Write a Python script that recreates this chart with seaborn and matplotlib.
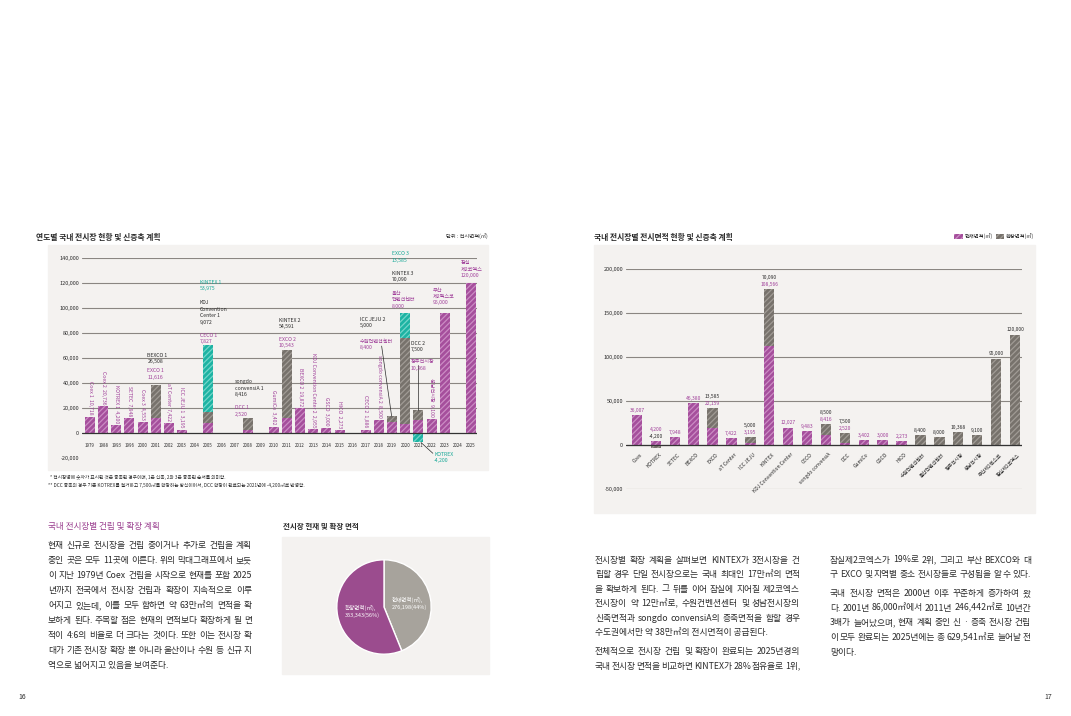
import numpy as np
import matplotlib
matplotlib.use('Agg')
import matplotlib.pyplot as plt
import seaborn as sns
from matplotlib.patches import Rectangle, Patch

# ---- left chart: area by year (magenta = new, gray = expansion, teal = highlighted) ----
years = ['1979', '1988', '1993', '1996', '2000', '2001', '2002', '2003', '2004', '2005',
         '2006', '2007', '2008', '2009', '2010', '2011', '2012', '2013', '2014', '2015',
         '2016', '2017', '2018', '2019', '2020', '2021', '2022', '2023', '2024', '2025']
new_area = [13000, 21600, 6400, 12000, 8800, 12300, 8000, 2700, 0, 8300,
            0, 0, 2700, 0, 5400, 12200, 20000, 3200, 4300, 2700,
            0, 2700, 10400, 9000, 7700, 10700, 11200, 96500, 0, 120500]
expand_area = [0, 0, 0, 0, 0, 26100, 0, 0, 0, 8600,
               0, 0, 9500, 0, 0, 54500, 0, 0, 0, 0,
               0, 0, 0, 4900, 68800, 8000, 0, 0, 0, 0]
teal_area = [0, 0, 0, 0, 0, 0, 0, 0, 0, 53600,
             0, 0, 0, 0, 0, 0, 0, 0, 0, 0,
             0, 0, 0, 0, 19500, 0, 0, 0, 0, 0]
teal_negative = [0] * 25 + [-6700] + [0] * 4

vert_years = ['1979', '1988', '1993', '1996', '2000', '2002', '2003', '2010', '2012',
              '2013', '2014', '2015', '2017', '2018', '2022']
vert_labels = ['Coex 1  10,718', 'Coex 2  20,736', 'KOTREX 1  4,200', 'SETEC  7,948',
               'Coex 3  4,553', 'aT Center  7,422', 'ICC JEJU 1  3,195', 'GumiCo  3,402',
               'BEXCO 2  19,872', 'KDJ Convention Center 2  2,955', 'GSCO  3,000',
               'HICO  2,273', 'CECO 2  1,886', 'songdo convensiA 2  8,500', '성남전시장  9,100']

# ---- right chart: area by venue ----
venues = ['Coex', 'KOTREX', 'SETEC', 'BEXCO', 'EXCO', 'aT Center', 'ICC JEJU', 'KINTEX',
          'KDJ Convention Center', 'CECO', 'songdo convensiA', 'DCC', 'GumiCo', 'GSCO',
          'HICO', '수원컨벤션센터', '울산컨벤션센터', '청주전시장', '성남전시장',
          '부산제2벡스코', '잠실제2코엑스']
current_area = [34200, 4600, 9100, 47800, 19000, 7600, 2700, 112700, 19600, 15600,
                11000, 1900, 5300, 5300, 4200, 0, 0, 0, 0, 0, 0]
extension_area = [0, -3000, 0, 0, 23100, 0, 6400, 65300, 0, 0,
                  12600, 12100, 0, 0, 0, 11400, 9100, 14800, 11400, 98300, 125300]
current_labels = ['36,007', '4,200', '7,948', '46,380', '22,159', '7,422', '3,195', '108,566',
                  '12,027', '9,483', '8,416', '2,520', '3,402', '3,000', '2,273',
                  '', '', '', '', '', '']
extension_labels = ['', '-4,200', '', '', '13,585', '', '5,000', '70,090', '', '', '8,500',
                    '7,500', '', '', '', '8,400', '8,000', '10,368', '9,100', '95,000', '120,000']

# ---- pie ----
pie_values = [276198, 353343]
pie_labels = ['현재면적(㎡),\n276,198(44%)', '확장면적(㎡),\n353,343(56%)']

MAG, MAG_H = '#a54f9c', '#cb8cc4'
GRAY, GRAY_H = '#77726c', '#a09b95'
TEAL, TEAL_H = '#1db3a3', '#74d6ca'
MAG_T, TEAL_T = '#a0409a', '#17a897'
BG = '#f4f2f0'
GRID = '#8a8682'
INK = '#2b2b2b'

sns.set_style('white')
plt.rcParams['font.family'] = ['Noto Sans CJK KR', 'DejaVu Sans']
plt.rcParams['hatch.linewidth'] = 0.9

W, H = 1071, 716
fig = plt.figure(figsize=(W / 100, H / 100), dpi=100)
fig.patch.set_facecolor('white')


def rect(x0, y0, x1, y1):
    return [x0 / W, 1 - y1 / H, (x1 - x0) / W, (y1 - y0) / H]


def ftext(x, y, s, **kw):
    kw.setdefault('color', INK)
    return fig.text(x / W, 1 - y / H, s, **kw)


def panel(x0, y0, x1, y1):
    fig.add_artist(Rectangle((x0 / W, 1 - y1 / H), (x1 - x0) / W, (y1 - y0) / H,
                             transform=fig.transFigure, color=BG, zorder=0))


panel(48, 245, 488, 470)
panel(594, 245, 1035, 513)
panel(282, 537, 489, 674)

# ================= left chart =================
ax1 = fig.add_axes(rect(82, 258.3, 477, 458.3))
ax1.set_facecolor('none')
new = np.array(new_area)
exp = np.array(expand_area)
teal = np.array(teal_area)
total = new + exp + teal
bar_kw = dict(width=0.76, saturation=1, errorbar=None, linewidth=0, hatch='//////', ax=ax1)
sns.barplot(x=years, y=total, color=TEAL, edgecolor=TEAL_H, **bar_kw)
sns.barplot(x=years, y=new + exp, color=GRAY, edgecolor=GRAY_H, **bar_kw)
sns.barplot(x=years, y=new, color=MAG, edgecolor=MAG_H, **bar_kw)
sns.barplot(x=years, y=teal_negative, color=TEAL, edgecolor=TEAL_H, **bar_kw)

for v in range(20000, 140001, 20000):
    ax1.axhline(v, color=GRID, lw=0.8, zorder=0.5)
ax1.axhline(0, color='#333333', lw=0.9, zorder=3)
ax1.set_ylim(-20000, 140000)
ax1.set_yticks(range(-20000, 140001, 20000))
ax1.set_yticklabels([f'{v:,}' for v in range(-20000, 140001, 20000)])
ax1.tick_params(axis='y', length=0, pad=2, labelsize=4.0, labelcolor=INK)
ax1.set_xticks([])
ax1.set_xlabel('')
ax1.set_ylabel('')
for s in ax1.spines.values():
    s.set_visible(False)

for i, yr in enumerate(years):
    ax1.text(i, -9600, yr, ha='center', va='center', fontsize=3.2, color=INK)

for yr, lab in zip(vert_years, vert_labels):
    i = years.index(yr)
    ax1.annotate(lab, (i, total[i]), xytext=(0, 1.5), textcoords='offset points',
                 rotation=270, ha='center', va='bottom', fontsize=3.7, color=MAG_T)

tone = {'k': INK, 'm': MAG_T, 't': TEAL_T}
notes = [
    ('BEXCO 1\n26,508', 'k', 4.36, 64500),
    ('EXCO 1\n11,616', 'm', 4.36, 52000),
    ('KINTEX 1\n53,975', 't', 8.37, 122700),
    ('KDJ\nConvention\nCenter 1\n9,072', 'k', 8.37, 106400),
    ('CECO 1\n7,827', 'm', 8.37, 80500),
    ('songdo\nconvensiA 1\n8,416', 'k', 11.0, 43200),
    ('DCC 1\n2,520', 'm', 11.0, 22400),
    ('KINTEX 2\n54,591', 'k', 14.38, 92500),
    ('EXCO 2\n10,543', 'm', 14.38, 77300),
    ('ICC JEJU 2\n5,000', 'k', 20.55, 93100),
    ('수원컨벤션센터\n8,400', 'm', 20.55, 75700),
    ('EXCO 3\n13,585', 't', 22.96, 145500),
    ('KINTEX 3\n70,090', 'k', 22.96, 129900),
    ('울산\n컨벤션센터\n8,000', 'm', 22.96, 113900),
    ('DCC 2\n7,500', 'k', 24.43, 73900),
    ('청주전시장\n10,368', 'm', 24.43, 59200),
    ('부산\n제2벡스코\n95,000', 'm', 26.1, 116500),
    ('잠실\n제2코엑스\n120,000', 'm', 28.2, 138400),
    ('KOTREX\n-4,200', 't', 26.2, -15000),
]
for txt, c, x, y in notes:
    ax1.text(x, y, txt, ha='left', va='top', fontsize=3.7, color=tone[c], linespacing=1.35)

ax1.plot([22.2, 22.96], [69800, 13800], color=INK, lw=0.5)
ax1.plot([25, 25], [55000, 18700], color=INK, lw=0.5)
ax1.plot([25.2, 26.1], [-7400, -16000], color=INK, lw=0.5)
ax1.set_xlim(-0.61, 29.46)

ftext(36, 237, '연도별 국내 전시장 현황 및 신증축 계획', fontsize=5.6, fontweight='bold',
      va='center', ha='left')
ftext(488, 236, '단위 : 전시면적(㎡)', fontsize=3.8, va='center', ha='right')
ftext(50, 477, '* 전시장명에 숫자가 표시된 것은 증축된 경우이며, 1은 신축, 2와 3은 증축된 순서를 의미함.',
      fontsize=3.4, va='center')
ftext(48, 485.5, '** DCC 증축의 경우 기존 KOTREX를 철거하고 7,500㎡를 확장하는 방식이어서, '
      'DCC 확장이 완료되는 2021년에 -4,200㎡로 반영함.', fontsize=3.4, va='center')

# ================= right chart =================
ax2 = fig.add_axes(rect(626, 269.3, 1022, 489))
ax2.set_facecolor('none')
cur = np.array(current_area)
ext = np.array(extension_area)
top = cur + np.clip(ext, 0, None)
bar_kw2 = dict(width=0.55, saturation=1, errorbar=None, linewidth=0, hatch='//////', ax=ax2)
sns.barplot(x=venues, y=top, color=GRAY, edgecolor=GRAY_H, **bar_kw2)
sns.barplot(x=venues, y=cur, color=MAG, edgecolor=MAG_H, **bar_kw2)
sns.barplot(x=venues, y=np.clip(ext, None, 0), color=GRAY, edgecolor=GRAY_H, **bar_kw2)

for v in range(-50000, 200001, 50000):
    ax2.axhline(v, color=GRID, lw=0.8, zorder=0.5)
ax2.axhline(0, color='#333333', lw=0.9, zorder=3)
ax2.set_ylim(-50000, 200000)
ax2.set_yticks(range(-50000, 200001, 50000))
ax2.set_yticklabels([f'{v:,}' for v in range(-50000, 200001, 50000)])
ax2.tick_params(axis='y', length=0, pad=2, labelsize=4.0, labelcolor=INK)
ax2.set_xticks([])
ax2.set_xlabel('')
ax2.set_ylabel('')
for s in ax2.spines.values():
    s.set_visible(False)

for i, name in enumerate(venues):
    ax2.annotate(name, (i, 0), xytext=(2, -5), textcoords='offset points', rotation=45,
                 rotation_mode='anchor', ha='right', va='top', fontsize=3.6, color=INK)
    cl, el = current_labels[i], extension_labels[i]
    if cl and el:
        lower, upper = (cl, el) if ext[i] >= 0 else (el, cl)
        lc = MAG_T if lower == cl else INK
        uc = MAG_T if upper == cl else INK
        ax2.annotate(lower, (i, top[i]), xytext=(0, 3.2), textcoords='offset points',
                     ha='center', va='center', fontsize=3.6, color=lc)
        ax2.annotate(upper, (i, top[i]), xytext=(0, 8.2), textcoords='offset points',
                     ha='center', va='center', fontsize=3.6, color=uc)
    else:
        ax2.annotate(cl or el, (i, top[i]), xytext=(0, 3.6), textcoords='offset points',
                     ha='center', va='center', fontsize=3.6, color=MAG_T if cl else INK)
ax2.set_xlim(-0.58, 20.37)

ftext(594, 237, '국내 전시장별 전시면적 현황 및 신증축 계획', fontsize=5.6, fontweight='bold',
      va='center', ha='left')
handles = [Patch(facecolor=MAG, edgecolor=MAG_H, hatch='//////', lw=0, label='현재면적(㎡)'),
           Patch(facecolor=GRAY, edgecolor=GRAY_H, hatch='//////', lw=0, label='확장면적(㎡)')]
fig.legend(handles=handles, loc='center right', bbox_to_anchor=(1034 / W, 1 - 236.5 / H),
           ncol=2, frameon=False, fontsize=3.8, handlelength=1.6, handleheight=1.2,
           handletextpad=0.3, columnspacing=0.6, borderaxespad=0, borderpad=0)

# ================= pie =================
ax3 = fig.add_axes(rect(325, 548, 443, 666))
ax3.pie(pie_values, colors=['#a7a39c', '#9b4c8e'], startangle=90, counterclock=False,
        wedgeprops=dict(edgecolor='white', linewidth=1))
ax3.text(0.17, 0.08, pie_labels[0], ha='left', va='center', fontsize=4.0, color='white',
         linespacing=1.3)
ax3.text(-0.83, -0.1, pie_labels[1], ha='left', va='center', fontsize=4.0, color='white',
         linespacing=1.3)
ax3.set_aspect('equal')
ftext(283, 526, '전시장 현재 및 확장 면적', fontsize=5.4, fontweight='bold', va='center')

# ================= body text =================
ftext(48, 527, '국내 전시장별 건립 및 확장 계획', fontsize=6.2, color='#9a3f8f', va='center')

renderer = fig.canvas.get_renderer()


def body_line(x0, x1, y, line, justify=True, size=6.3):
    if not justify:
        ftext(x0, y, line, fontsize=size, va='center')
        return
    words = line.split(' ')
    texts = [ftext(x0, y, w, fontsize=size, va='center') for w in words]
    widths = [t.get_window_extent(renderer).width for t in texts]
    gap = (x1 - x0 - sum(widths)) / max(len(words) - 1, 1)
    x = x0
    for t, w in zip(texts, widths):
        t.set_x(x / W)
        x += w + gap


left_lines = [
    '현재 신규로 전시장을 건립 중이거나 추가로 건립을 계획',
    '중인 곳은 모두 11곳에 이른다. 위의 막대그래프에서 보듯',
    '이 지난 1979년 Coex 건립을 시작으로 현재를 포함 2025',
    '년까지 전국에서 전시장 건립과 확장이 지속적으로 이루',
    '어지고 있는데, 이를 모두 합하면 약 63만㎡의 면적을 확',
    '보하게 된다. 주목할 점은 현재의 면적보다 확장하게 될 면',
    '적이 4:6의 비율로 더 크다는 것이다. 또한 이는 전시장 확',
    '대가 기존 전시장 확장 뿐 아니라 울산이나 수원 등 신규 지',
    '역으로 넓어지고 있음을 보여준다.',
]
for k, line in enumerate(left_lines):
    body_line(48, 252, 545.7 + 15 * k, line, justify=k < len(left_lines) - 1)

mid_lines = [
    ('전시장별 확장 계획을 살펴보면 KINTEX가 3전시장을 건', 560, True),
    ('립할 경우 단일 전시장으로는 국내 최대인 17만㎡의 면적', 574.6, True),
    ('을 확보하게 된다. 그 뒤를 이어 잠실에 지어질 제2코엑스', 589.2, True),
    ('전시장이 약 12만㎡로, 수원컨벤션센터 및 성남전시장의', 603.8, True),
    ('신축면적과 songdo convensiA의 증축면적을 합할 경우', 618.4, True),
    ('수도권에서만 약 38만㎡의 전시면적이 공급된다.', 633, False),
    ('전체적으로 전시장 건립 및 확장이 완료되는 2025년경의', 651.7, True),
    ('국내 전시장 면적을 비교하면 KINTEX가 28% 점유율로 1위,', 666.3, True),
]
for line, y, j in mid_lines:
    body_line(595, 800, y, line, justify=j)

right_lines = [
    ('잠실제2코엑스가 19%로 2위, 그리고 부산 BEXCO와 대', 560, True),
    ('구 EXCO 및 지역별 중소 전시장들로 구성됨을 알 수 있다.', 574.6, True),
    ('국내 전시장 면적은 2000년 이후 꾸준하게 증가하여 왔', 593.3, True),
    ('다. 2001년 86,000㎡에서 2011년 246,442㎡로 10년간', 608, True),
    ('3배가 늘어났으며, 현재 계획 중인 신 · 증축 전시장 건립', 622.6, True),
    ('이 모두 완료되는 2025년에는 총 629,541㎡로 늘어날 전', 637.3, True),
    ('망이다.', 652, False),
]
for line, y, j in right_lines:
    body_line(830, 1031, y, line, justify=j)

ftext(18, 697, '16', fontsize=5, va='center')
ftext(1052, 697, '17', fontsize=5, va='center', ha='right')

fig.savefig('out.png', dpi=100, facecolor='white')
